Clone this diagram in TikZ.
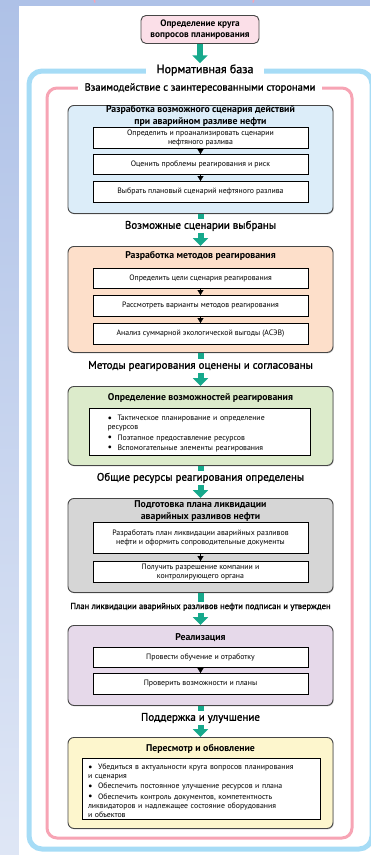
\documentclass[tikz,border=0pt]{standalone}
\usepackage{fontspec}
\setmainfont{PT Sans}
\newfontfamily\semib[FakeBold=1.2]{PT Sans}
\usetikzlibrary{arrows.meta,shadows}

\definecolor{bgblue}{RGB}{174,193,231}
\definecolor{normblue}{RGB}{166,220,246}
\definecolor{partypink}{RGB}{247,164,180}
\definecolor{flowteal}{RGB}{23,169,140}
\definecolor{boxline}{RGB}{70,70,70}
\definecolor{fillpink}{RGB}{251,223,232}
\definecolor{fillblue}{RGB}{220,237,249}
\definecolor{fillorange}{RGB}{253,223,202}
\definecolor{fillgreen}{RGB}{220,235,203}
\definecolor{fillgray}{RGB}{214,214,214}
\definecolor{filllilac}{RGB}{230,217,234}
\definecolor{fillyellow}{RGB}{253,246,205}

\newcommand{\bul}[1]{\par\hangindent=10pt\hangafter=1\noindent\hbox to 10pt{\raisebox{-0.6pt}{\fontsize{10}{10}\selectfont\textbullet}\hss}#1\par\vspace{1.2pt}}

\tikzset{
  stage/.style={draw=boxline, line width=0.9pt, rounded corners=6pt, anchor=north,
    minimum width=265pt, inner sep=0pt,
    drop shadow={shadow xshift=0.7pt, shadow yshift=-0.9pt, opacity=0.4}},
  stitle/.style={font=\bfseries\fontsize{9.8}{11.5}\selectfont, align=center, inner sep=0pt},
  inbox/.style={draw=black, line width=0.8pt, fill=white, minimum width=215pt, anchor=north,
    inner sep=1pt, align=center, font=\fontsize{7.8}{9}\selectfont},
  stagelbl/.style={font=\semib\fontsize{11}{12}\selectfont, inner sep=0pt, outer sep=1.5pt,
    text height=8pt, text depth=2.5pt},
  framelbl/.style={fill=white, font=\semib\fontsize{10.5}{12}\selectfont, inner xsep=9pt, inner ysep=1pt},
  flow/.style={draw=flowteal, line width=6pt},
  flowhead/.style={flow, -{Triangle[width=15pt,length=8pt]}},
  tri/.style={-{Triangle[width=6pt,length=5pt]}, line width=0.2pt},
}

\begin{document}
\begin{tikzpicture}[x=1pt,y=-1pt]
\useasboundingbox (0,0) rectangle (370,855);

% background
\shade[top color=bgblue, bottom color=bgblue!40!white] (0,0) rectangle (19,855);
\fill[bgblue] (0,0) rectangle (370,6);
\fill[white] (19,6) rectangle (370,855);
\draw[partypink, line width=1.5pt] (94,-1) -- (95,2.5);
\draw[partypink, line width=1.5pt] (254,-1) -- (253,2.5);

% frames
\draw[normblue, line width=5pt, rounded corners=13pt] (29,71) rectangle (372,849);
\draw[partypink, line width=3pt, rounded corners=10pt] (47,88) rectangle (352,838);

\node[framelbl, font=\semib\fontsize{12}{13}\selectfont, inner xsep=11pt] (nb) at (205,70) {Нормативная база};
\node[framelbl, inner xsep=7pt] (vz) at (200,88) {Взаимодействие с заинтересованными сторонами};

% start
\node[draw=boxline, line width=0.9pt, fill=fillpink, rounded corners=5pt, anchor=north,
  minimum width=118pt, minimum height=28pt, align=center, inner sep=1pt,
  font=\bfseries\fontsize{9.3}{10.5}\selectfont] (krug) at (200,15)
  {Определение круга\\вопросов планирования};
\draw[flowhead] (krug.south) -- (krug.south |- nb.north);

% stage 1
\node[stage, fill=fillblue, minimum height=108pt] (s1) at (200.5,105) {};
\node[stitle] (t1) at (200.5,116) {Разработка возможного сценария действий\\при аварийном разливе нефти};
\node[inbox, minimum height=21pt] (a1) at (200.5,127) {Определить и проанализировать сценарии\\нефтяного разлива};
\node[inbox, minimum height=20pt] (a2) at (200.5,154) {Оценить проблемы реагирования и риск};
\node[inbox, minimum height=21pt] (a3) at (200.5,181) {Выбрать плановый сценарий нефтяного разлива};
\draw[tri] (a1.south) -- (a2.north);
\draw[tri] (a2.south) -- (a3.north);

\node[stagelbl] (l1) at (200.5,226) {Возможные сценарии выбраны};
\draw[flow] (s1.south) -- (l1.north);

% stage 2
\node[stage, fill=fillorange, minimum height=106pt] (s2) at (200.5,246) {};
\draw[flowhead] (l1.south) -- (s2.north);
\node[stitle] (t2) at (200.5,256) {Разработка методов реагирования};
\node[inbox, minimum height=20pt] (b1) at (200.5,268) {Определить цели сценария реагирования};
\node[inbox, minimum height=21pt] (b2) at (200.5,295) {Рассмотреть варианты методов реагирования};
\node[inbox, minimum height=21pt] (b3) at (200.5,323) {Анализ суммарной экологической выгоды (АСЭВ)};
\draw[tri] (b1.south) -- (b2.north);
\draw[tri] (b2.south) -- (b3.north);

\node[stagelbl] (l2) at (200.5,366) {Методы реагирования оценены и согласованы};
\draw[flow] (s2.south) -- (l2.north);

% stage 3
\node[stage, fill=fillgreen, minimum height=79pt] (s3) at (200.5,386) {};
\draw[flowhead] (l2.south) -- (s3.north);
\node[stitle] (t3) at (200.5,398) {Определение возможностей реагирования};
\node[inbox, minimum width=221pt, minimum height=47pt, text width=184pt, align=left] (c1) at (199.5,408)
  {\bul{Тактическое планирование и определение\\ресурсов}\bul{Поэтапное предоставление ресурсов}\bul{Вспомогательные элементы реагирования}};

\node[stagelbl] (l3) at (200.5,478) {Общие ресурсы реагирования определены};
\draw[flow] (s3.south) -- (l3.north);

% stage 4
\node[stage, fill=fillgray, minimum height=94pt] (s4) at (200.5,498) {};
\draw[flowhead] (l3.south) -- (s4.north);
\node[stitle] (t4) at (200.5,511) {Подготовка плана ликвидации\\аварийных разливов нефти};
\node[inbox, minimum height=31pt] (d1) at (200.5,522) {Разработать план ликвидации аварийных разливов\\нефти и оформить сопроводительные документы};
\node[inbox, minimum height=21pt] (d2) at (200.5,561) {Получить разрешение компании и\\контролирующего органа};
\draw[tri] (d1.south) -- (d2.north);

\node[stagelbl, font=\semib\fontsize{8.6}{9.5}\selectfont, text height=6pt, text depth=2pt] (l4) at (200.5,607)
  {План ликвидации аварийных разливов нефти подписан и утвержден};
\draw[flow] (s4.south) -- (l4.north);

% stage 5
\node[stage, fill=filllilac, minimum height=80pt] (s5) at (200.5,625) {};
\draw[flowhead] (l4.south) -- (s5.north);
\node[stitle] (t5) at (200.5,638) {Реализация};
\node[inbox, minimum height=20pt] (e1) at (200.5,647) {Провести обучение и отработку};
\node[inbox, minimum height=21pt] (e2) at (200.5,673) {Проверить возможности и планы};
\draw[tri] (e1.south) -- (e2.north);

\node[stagelbl] (l5) at (200.5,718) {Поддержка и улучшение};
\draw[flow] (s5.south) -- (l5.north);

% stage 6
\node[stage, fill=fillyellow, minimum height=91pt] (s6) at (200.5,737) {};
\draw[flowhead] (l5.south) -- (s6.north);
\node[stitle] (t6) at (200.5,749) {Пересмотр и обновление};
\node[inbox, minimum width=238pt, minimum height=61pt, text width=226pt, align=left] (f1) at (201,758)
  {\bul{Убедиться в актуальности круга вопросов планирования\\и сценария}\bul{Обеспечить постоянное улучшение ресурсов и плана}\bul{Обеспечить контроль документов, компетентность\\ликвидаторов и надлежащее состояние оборудования\\и объектов}};
\end{tikzpicture}
\end{document}
